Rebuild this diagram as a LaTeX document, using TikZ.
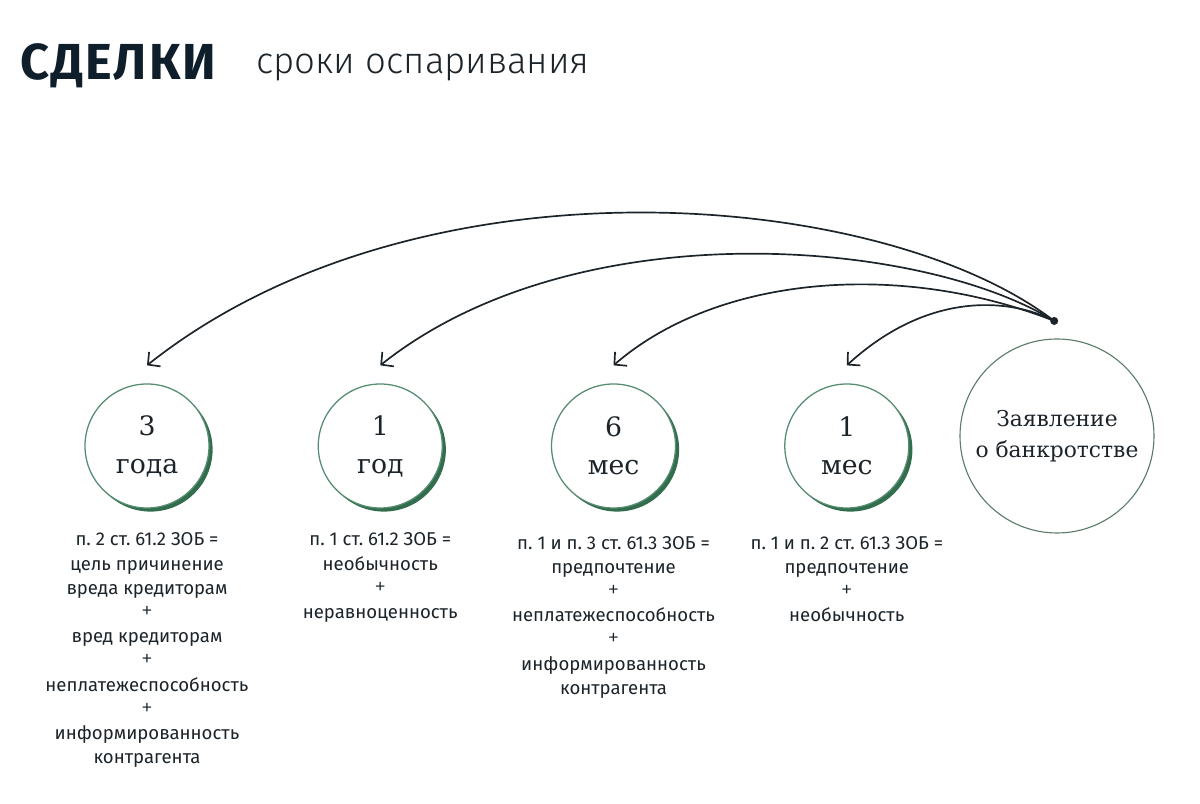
\documentclass[tikz,border=0pt]{standalone}
\usepackage{fontspec}
\setmainfont{Fira Sans}
\newfontfamily\slabfont{DejaVu Serif}
\newfontfamily\lightfont{Fira Sans Light}
\newfontfamily\headfont[LetterSpace=4]{Fira Sans}
\usepackage{xcolor}
\usetikzlibrary{arrows.meta, positioning, shadows}

\definecolor{ringgreen}{RGB}{86,140,112}
\definecolor{shadowgreen}{RGB}{50,110,78}
\definecolor{bigring}{RGB}{92,124,106}
\definecolor{inkdark}{RGB}{28,36,42}
\definecolor{titleink}{RGB}{14,30,42}

\newcommand{\plusline}{{\lightfont\fontsize{17}{17}\selectfont +}}

\begin{document}
\begin{tikzpicture}[
  node distance=2.7cm,
  every node/.style={font=\fontsize{13.2}{17.2}\selectfont, text=inkdark},
  term/.style={circle, draw=ringgreen, line width=0.9pt, fill=white, minimum size=3.1cm, inner sep=0pt, align=center,
    font=\slabfont\fontsize{19}{27}\selectfont,
    drop shadow={shadow xshift=0.09cm, shadow yshift=-0.09cm, fill=shadowgreen, opacity=1}},
  start/.style={circle, draw=bigring, line width=0.8pt, minimum size=4.85cm, inner sep=0pt, align=center,
    font=\slabfont\fontsize{15.5}{22}\selectfont},
  dot/.style={circle, fill=inkdark, inner sep=0pt, minimum size=0.2cm},
  rule/.style={align=center, inner sep=0pt},
  arr/.style={-{Straight Barb[length=2.2mm, width=4.6mm]}, line width=1.2pt, draw=inkdark},
]
\useasboundingbox (0,0) rectangle (30,20.1);

% Title
\node[anchor=base west, inner sep=0pt, font=\headfont\bfseries\fontsize{36}{40}\selectfont, text=titleink] (title) at (0.5,18.1) {СДЕЛКИ};
\node[anchor=base west, inner sep=0pt, font=\lightfont\fontsize{26}{30}\selectfont, text=inkdark] (subtitle) at (6.4,18.25) {сроки оспаривания};

% Periods (left to right)
\node[term] (c1) at (3.675,8.95) {3\\года};
\node[term, right=of c1] (c2) {1\\год};
\node[term, right=of c2] (c3) {6\\мес};
\node[term, right=of c3] (c4) {1\\мес};

% Bankruptcy filing
\node[start, right=1.25cm of c4, yshift=0.25cm] (big) {Заявление\\о банкротстве};
\node[dot, above=0.33cm of big, xshift=-0.07cm] (dot) {};

% Grounds under each period
\node[rule, below=0.6cm of c1] (r1) {п.~2 ст.~61.2 ЗОБ =\\цель причинение\\вреда кредиторам\\\plusline\\вред кредиторам\\\plusline\\неплатежеспособность\\\plusline\\информированность\\контрагента};
\node[rule, below=0.6cm of c2] (r2) {п.~1 ст.~61.2 ЗОБ =\\необычность\\\plusline\\неравноценность};
\node[rule, below=0.68cm of c3] (r3) {п.~1 и п.~3 ст.~61.3 ЗОБ =\\предпочтение\\\plusline\\неплатежеспособность\\\plusline\\информированность\\контрагента};
\node[rule, below=0.68cm of c4] (r4) {п.~1 и п.~2 ст.~61.3 ЗОБ =\\предпочтение\\\plusline\\необычность};

% Arrow targets above circles
\coordinate[above=0.45cm of c1] (t1);
\coordinate[above=0.45cm of c2] (t2);
\coordinate[above=0.45cm of c3] (t3);
\coordinate[above=0.45cm of c4] (t4);

% Arcs from the filing back in time
\draw[arr] (dot.center) .. controls +(-4.3,3.3) and +(6.8,5.4) .. (t1);
\draw[arr] (dot.center) .. controls +(-3.3,2.05) and +(4.9,3.9) .. (t2);
\draw[arr] (dot.center) .. controls +(-3.8,1.5) and +(2.625,2.275) .. (t3);
\draw[arr] (dot.center) .. controls +(-1.05,0.55) and +(2.075,1.9) .. (t4);

\end{tikzpicture}
\end{document}
